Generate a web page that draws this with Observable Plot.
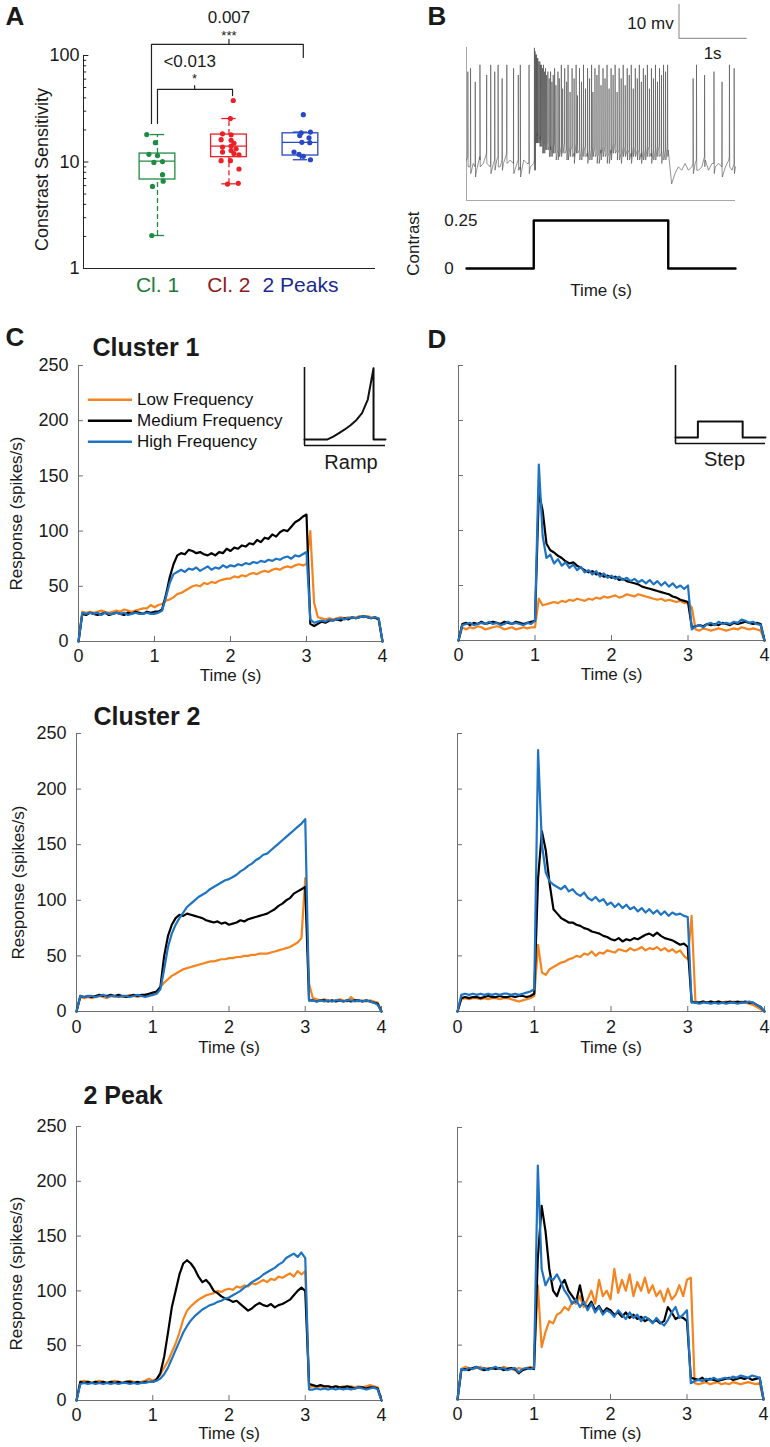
<!DOCTYPE html>
<html><head><meta charset="utf-8">
<script src="https://cdn.jsdelivr.net/npm/d3@7"></script>
<script src="https://cdn.jsdelivr.net/npm/@observablehq/plot@0.6"></script>
<style>
body{margin:0;background:#fff;}
#fig{position:relative;width:770px;height:1447px;overflow:hidden;background:#fff;}
#fig svg{position:absolute;overflow:visible;}
</style></head><body><div id="fig"></div>
<script>
// ---------------- DATA ----------------
const TIME_STEP = 0.05; // response samples every 50 ms from 0 to 4 s
const timeTicks = [0, 1, 2, 3, 4];
const responseTicks = [0, 50, 100, 150, 200, 250];
const freqNames = ["Low Frequency", "Medium Frequency", "High Frequency"];

// Panel A
const catLabels = ["Cl. 1", "Cl. 2", "2 Peaks"];
const boxQ1 = [6.85, 11.1, 11.5];
const boxMedian = [10.2, 14.1, 15.3];
const boxQ3 = [12.0, 18.1, 18.6];
const whiskerLow = [2.04, 6.24, 10.5];
const whiskerHigh = [18.1, 25.6, 19.1];
const cl1Values = [18.1, 15.2, 11.8, 11.5, 9.9, 10.1, 7.6, 6.6, 5.9, 2.04];
const cl1Jitter = [-0.15, -0.03, -0.12, 0, -0.05, 0.07, 0.07, 0.08, -0.07, -0.08];
const cl2Values = [37.8, 25.6, 18.4, 18.0, 16.2, 16.0, 15.0, 13.8, 14.1, 13.3, 12.8, 12.4, 12.0, 11.7, 10.3, 10.3, 8.6, 6.3, 6.2];
const cl2Jitter = [0.06, 0.02, -0.09, 0.03, -0.11, 0.03, 0.07, -0.09, 0.03, 0.1, 0.03, -0.09, 0.07, 0.14, -0.11, 0.02, 0.14, 0.13, -0.02];
const peaksValues = [27.8, 18.8, 19.1, 17.7, 16.9, 15.3, 15.2, 12.4, 11.8, 11.3, 10.5];
const peaksJitter = [0.04, 0.01, 0.14, -0.01, 0.12, 0.02, 0.13, -0.09, -0.02, 0.04, 0.14];
const compPValues = ["0.007", "<0.013"];
const compStars = ["***", "*"];

// Panel B
const traceBaseline = [
 -59,-61,-60,-62,-59,-60,-58,-61,-60,-59,
 -61,-60,-58,-59,-61,-60,-62,-59,-60,-61,
 -60,-52,-53,-55,-54,-56,-55,-57,-56,-55,
 -57,-56,-58,-55,-57,-56,-58,-57,-56,-58,
 -57,-56,-58,-57,-55,-57,-58,-56,-57,-58,
 -56,-57,-58,-57,-56,-58,-57,-56,-58,-57,
 -56,-66,-63,-61,-62,-60,-62,-61,-60,-62,
 -61,-59,-62,-60,-61,-60,-62,-61,-59,-62,
 -61];
const spikeTimes = [
 0.02,0.06,0.13,0.20,0.30,0.36,0.42,0.47,0.53,0.60,0.70,0.77,0.80,0.93,
 1.01,1.02,1.03,1.04,1.05,1.06,1.075,1.09,1.10,1.115,1.13,1.145,1.16,1.175,1.19,1.21,1.23,1.25,1.27,1.29,
 1.31,1.33,1.36,1.38,1.41,1.43,1.46,1.49,1.51,1.54,1.57,1.60,1.63,1.65,1.68,1.71,1.74,1.77,1.80,1.83,
 1.86,1.88,1.91,1.94,1.97,2.00,2.03,2.06,2.09,2.12,2.15,2.18,2.21,2.24,2.27,2.30,2.33,2.36,2.39,2.42,
 2.45,2.48,2.51,2.54,2.57,2.60,2.63,2.66,2.69,2.72,2.75,2.78,2.81,2.84,2.87,2.90,2.93,2.96,2.99,
 3.37,3.42,3.54,3.68,3.80,3.91,3.98];
const spikePeaks = [
 -33,-32,-36,-31,-34,-31,-33,-31,-35,-31,-32,-34,-31,-31,
 -26,-27,-28,-28,-29,-29,-30,-30,-31,-31,-32,-31,-33,-32,-34,-33,-35,-33,-36,-34,
 -32,-37,-33,-35,-31,-38,-32,-36,-31,-39,-32,-35,-31,-40,-32,-36,-31,-38,-32,-35,
 -31,-39,-32,-34,-31,-37,-32,-35,-31,-38,-32,-34,-31,-39,-32,-35,-31,-37,-32,-34,
 -31,-38,-32,-35,-31,-36,-32,-34,-31,-38,-32,-35,-31,-36,-32,-34,-31,-33,-31,
 -35,-31,-34,-33,-36,-31,-32];
const traceDomain = [-70.9, -25.9];
const scaleBarMV = 10, scaleBarS = 1;
const contrastTimes = [0, 1, 1, 3, 3, 4];
const contrastLevels = [0, 0, 0.25, 0.25, 0, 0];

// Insets
const rampTimes = [0, 1, 1.25, 1.5, 1.75, 2.0, 2.25, 2.5, 2.75, 3.0, 3.0, 3.52];
const rampLevels = [0, 0, 0.04, 0.09, 0.14, 0.2, 0.27, 0.37, 0.56, 1.0, 0, 0];
const stepTimes = [0, 1, 1, 3, 3, 4.02];
const stepLevels = [0, 0, 1, 1, 0, 0];

// Responses (spikes/s), one value every 50 ms, 0..4 s
const c1Low = [0,27,26,27,26,27,28,27,26,27, 28,27,29,28,27,28,29,30,30,33, 31,33,34,37,38,40,43,44,46,48, 50,51,50,53,52,54,53,55,56,57, 57,59,58,60,59,61,62,61,63,64, 63,65,66,65,67,68,67,69,70,69, 70,100,35,22,21,20,21,20,21,22, 21,22,21,22,23,22,23,22,21,20, 0];
const c1Med = [0,25,24,26,25,24,25,26,24,25, 26,25,24,26,25,27,26,25,27,26, 27,27,29,42,58,70,78,80,79,83, 82,80,81,79,78,80,78,81,80,84, 82,85,84,87,86,89,88,92,90,94, 93,97,95,99,101,100,104,108,110,113, 115,16,14,16,18,17,19,19,20,19, 21,20,22,21,22,23,22,21,22,20, 0];
const c1High = [0,26,25,26,25,26,24,26,25,25, 26,25,26,24,25,26,25,25,26,25, 25,26,28,40,53,61,63,65,63,66, 65,67,64,66,68,65,67,66,69,67, 69,68,70,69,71,70,72,71,73,72, 74,73,75,74,76,77,75,78,77,79, 81,20,17,18,19,18,20,19,20,21, 20,21,22,21,22,23,22,21,22,21, 0];
const d1Low = [0,12,10,12,11,13,12,10,11,12, 13,12,10,11,12,10,11,12,11,12, 12,38,32,33,34,35,34,36,35,37, 36,38,37,36,38,37,39,38,40,39, 40,41,39,40,42,41,40,42,41,40, 39,38,37,38,36,37,36,35,36,34, 34,30,10,9,11,10,9,10,11,10, 9,10,11,10,12,11,10,11,10,9, 0];
const d1Med = [0,15,16,14,16,15,17,15,16,17, 16,15,17,16,15,17,16,15,16,17, 18,135,118,88,82,80,77,75,72,70, 71,68,66,64,62,63,60,61,58,59, 57,58,55,56,54,53,52,51,49,48, 47,46,45,44,43,42,40,39,37,36, 35,12,13,14,13,15,14,15,14,16, 15,14,16,15,16,17,16,15,16,15, 0];
const d1High = [0,14,15,16,14,15,16,15,17,15, 16,14,15,17,15,16,15,14,16,15, 18,160,95,75,78,70,74,68,71,66, 69,64,67,62,64,60,63,58,61,57, 59,56,58,55,57,54,56,53,55,52, 55,51,54,50,53,49,52,48,50,47, 50,10,13,14,12,15,16,14,17,15, 16,15,17,16,19,18,16,17,15,14, 0];
const c2Low = [0,13,12,13,12,13,14,13,12,14, 13,14,13,14,15,14,13,14,15,15, 15,17,22,26,29,32,34,36,38,39, 40,41,42,43,44,45,45,46,47,47, 48,48,49,49,50,50,51,51,52,52, 52,53,54,55,56,57,58,60,62,66, 120,25,12,11,10,11,10,9,10,11, 10,9,13,10,9,10,9,10,9,8, 0];
const c2Med = [0,14,13,14,13,14,15,14,14,15, 14,15,14,13,14,15,14,15,15,16, 17,18,22,50,68,78,84,87,86,88, 87,86,85,84,82,81,80,81,79,80, 78,79,80,82,81,83,84,85,86,87, 88,90,92,95,97,100,102,106,108,110, 112,10,10,9,10,10,9,10,9,10, 9,10,9,10,10,9,10,9,8,7, 0];
const c2High = [0,14,13,14,14,13,14,15,13,14, 14,13,14,14,13,14,15,14,13,14, 15,16,20,38,58,70,78,84,89,94, 97,100,103,105,107,110,112,114,116,118, 119,121,123,126,128,131,133,136,138,141, 142,145,148,151,154,157,160,163,166,169, 173,10,10,9,10,9,10,9,10,10, 9,10,10,9,10,9,10,9,8,6, 0];
const d2Low = [0,11,12,11,12,12,11,12,11,12, 12,11,12,12,11,10,9,10,11,12, 14,60,35,33,38,40,42,44,45,47, 48,50,49,52,51,54,50,53,52,55, 54,53,56,55,54,57,55,56,58,55, 57,56,58,55,57,54,56,53,55,50, 47,86,9,8,9,8,9,8,9,8, 9,8,9,8,9,8,7,6,4,2, 0];
const d2Med = [0,12,13,12,13,13,12,13,14,13, 13,14,13,13,14,13,14,14,13,14, 16,120,162,145,115,92,88,84,82,80, 80,78,77,75,74,72,71,70,68,67, 65,64,66,63,65,64,66,65,67,69, 70,68,71,68,66,65,64,62,60,61, 58,9,8,8,9,8,9,8,9,8, 8,9,8,9,8,9,8,8,6,4, 0];
const d2High = [0,15,16,15,16,15,16,15,16,15, 16,15,16,16,15,16,15,16,17,18, 20,235,150,125,117,114,112,110,113,108, 110,106,104,107,102,100,103,99,101,96, 98,94,97,93,96,92,94,90,93,89, 92,88,91,87,90,86,89,87,88,86, 85,8,8,7,8,8,7,8,7,8, 7,8,8,7,8,8,9,8,6,4, 0];
const c3Low = [0,17,18,17,16,17,18,17,16,17, 18,17,16,17,18,17,16,17,18,20, 18,20,24,30,36,44,52,62,74,82, 86,89,92,94,96,97,98,100,99,101, 102,101,104,103,105,104,107,106,108,110, 108,111,110,113,112,114,116,113,118,115, 118,12,13,12,13,12,13,12,13,12, 13,12,13,12,13,12,13,14,13,12, 0];
const c3Med = [0,17,16,17,16,17,16,17,16,17, 16,17,16,17,17,16,17,16,17,17, 17,19,25,40,62,85,100,115,125,128, 125,120,113,108,110,106,100,98,95,93, 92,90,91,88,85,82,84,87,89,87, 86,88,85,87,88,90,92,96,100,103, 100,15,14,13,14,13,13,12,13,12, 12,13,12,11,12,12,11,12,12,11, 0];
const c3High = [0,15,16,15,16,15,16,15,16,15, 16,15,16,16,15,16,15,16,16,17, 17,18,20,24,30,38,46,54,62,68, 73,77,80,83,85,87,88,90,91,93, 94,96,98,100,103,105,108,110,112,115, 117,119,121,124,126,130,132,134,131,135, 130,10,10,11,10,11,10,11,10,11, 10,11,10,11,12,11,10,11,12,10, 0];
const d3Low = [0,28,30,29,28,29,30,28,29,28, 29,28,30,29,28,27,29,28,29,30, 29,105,48,62,72,70,78,80,85,82, 90,88,95,85,92,100,88,110,95,100, 92,120,98,110,100,115,95,108,100,112, 98,105,95,100,90,102,92,96,105,95, 110,112,15,14,15,16,14,15,16,14, 15,14,16,15,14,15,16,15,14,15, 0];
const d3Med = [0,27,28,27,29,30,28,27,28,29, 28,29,27,28,29,28,24,27,28,29, 28,130,178,155,120,100,95,105,110,100, 95,90,105,88,85,90,82,86,80,84, 82,78,80,76,80,75,78,74,76,72, 74,71,73,70,72,85,80,74,76,75, 72,20,19,18,20,17,19,18,17,18, 19,20,18,19,20,19,20,18,19,20, 0];
const d3High = [0,28,27,29,28,30,28,29,27,29, 30,28,29,27,28,29,25,28,29,28, 29,215,120,105,112,110,115,108,100,95, 88,92,85,90,82,88,80,85,78,82, 80,76,82,78,74,80,75,78,72,76, 74,70,75,71,68,73,80,85,75,78, 82,15,17,18,17,19,18,20,18,19, 20,19,21,20,22,21,20,22,21,20, 0];

// ---------------- STYLE / LAYOUT ----------------
const FONT = "'Liberation Sans', Arial, Helvetica, sans-serif";
const baseStyle = {fontFamily: FONT, fontSize: "18px", color: "#1a1a1a", background: "transparent", overflow: "visible"};
const AXIS = "#6e6e6e";
const freqColors = ["#f5841f", "#000000", "#1e74c2"];
const catColors = ["#1f8b43", "#ec2027", "#2747c4"];
const catTextColors = ["#1d7a3c", "#8e1b1b", "#1b2a8f"];
const fig = document.getElementById("fig");
function place(svg, left, top) {
  svg.style.position = "absolute";
  svg.style.left = left + "px";
  svg.style.top = top + "px";
  fig.appendChild(svg);
}

// ---------------- PANEL A ----------------
(function () {
  const groups = [cl1Values, cl2Values, peaksValues];
  const jitters = [cl1Jitter, cl2Jitter, peaksJitter];
  const marks = [
    Plot.ruleX([-0.035], {stroke: "#222"}),
    Plot.ruleY([1], {stroke: "#222"}),
    Plot.ruleY([1, 10, 100], {x1: -0.035, x2: 0.04, stroke: "#222"}),
    Plot.ruleY([2,3,4,5,6,7,8,9,20,30,40,50,60,70,80,90], {x1: -0.035, x2: 0.01, stroke: "#222"}),
    Plot.axisY({ticks: [1, 10, 100], tickFormat: d => String(d), tickSize: 0, tickPadding: 4, fontSize: 18, label: null}),
    Plot.text(["Constrast Sensitivity"], {frameAnchor: "left", dx: -41, dy: 7.5, rotate: -90, textAnchor: "middle", lineAnchor: "middle", fontSize: 18}),
    Plot.text(["A"], {frameAnchor: "top-left", dx: -78, dy: -39, textAnchor: "start", lineAnchor: "middle", fontWeight: "bold", fontSize: 26})
  ];
  catLabels.forEach((lab, g) => {
    const c = catColors[g];
    const box = [{i: g + 1, q1: boxQ1[g], med: boxMedian[g], q3: boxQ3[g], lo: whiskerLow[g], hi: whiskerHigh[g]}];
    marks.push(
      Plot.ruleX(box, {x: "i", y1: "q3", y2: "hi", stroke: c, strokeWidth: 1.3, strokeDasharray: "5,3"}),
      Plot.ruleX(box, {x: "i", y1: "lo", y2: "q1", stroke: c, strokeWidth: 1.3, strokeDasharray: "5,3"}),
      Plot.ruleY(box, {y: "hi", x1: d => d.i - 0.1, x2: d => d.i + 0.1, stroke: c, strokeWidth: 1.3}),
      Plot.ruleY(box, {y: "lo", x1: d => d.i - 0.1, x2: d => d.i + 0.1, stroke: c, strokeWidth: 1.3}),
      Plot.rect(box, {x1: d => d.i - 0.25, x2: d => d.i + 0.25, y1: "q1", y2: "q3", fill: "none", stroke: c, strokeWidth: 1.3}),
      Plot.ruleY(box, {y: "med", x1: d => d.i - 0.25, x2: d => d.i + 0.25, stroke: c, strokeWidth: 1.1}),
      Plot.dot(groups[g].map((v, k) => ({x: g + 1 + jitters[g][k], v})), {x: "x", y: "v", r: 2.6, fill: c, stroke: "none"}),
      Plot.text([lab], {x: g + 1, frameAnchor: "bottom", dy: 17, lineAnchor: "middle", fill: catTextColors[g], fontSize: 21})
    );
  });
  const brackets = [
    {x1: 0.916, x2: 3.04, y: 127, yl: 23, yr: 96, xc: 2.0, top: 141, ptxt: 225, stxt: 152, ptx: 2.0},
    {x1: 1.0, x2: 2.05, y: 48, yl: 23, yr: 42, xc: 1.52, top: 52, ptxt: 87, stxt: 60, ptx: 1.45}
  ];
  brackets.forEach((b, k) => {
    marks.push(
      Plot.line([{x: b.x1, y: b.yl}, {x: b.x1, y: b.y}, {x: b.x2, y: b.y}, {x: b.x2, y: b.yr}], {x: "x", y: "y", stroke: "#222", strokeWidth: 1.2}),
      Plot.ruleX([b.xc], {y1: b.y, y2: b.top, stroke: "#222", strokeWidth: 1.2}),
      Plot.text([compPValues[k]], {x: b.ptx, y: b.ptxt, fontSize: 17, fill: "#1a1a1a"}),
      Plot.text([compStars[k]], {x: b.xc, y: b.stxt, fontSize: 13, fill: "#1a1a1a"})
    );
  });
  const svg = Plot.plot({
    width: 385, height: 300, marginLeft: 83, marginRight: 10, marginTop: 55, marginBottom: 32,
    x: {domain: [-0.035, 4.05], axis: null},
    y: {type: "log", domain: [1, 100]},
    style: baseStyle, marks
  });
  place(svg, 0, 0);
})();

// ---------------- PANEL B ----------------
(function () {
  const pts = traceBaseline.map((v, i) => ({t: i * TIME_STEP, v}));
  spikeTimes.forEach((t, k) => {
    const base = traceBaseline[Math.round(t / TIME_STEP)];
    pts.push({t: t - 0.002, v: base + 1}, {t, v: spikePeaks[k]}, {t: t + 0.004, v: base - 2});
  });
  pts.sort((a, b) => a.t - b.t);
  const sbT = 3.16, sbV = -23.2;
  const bar = [{t: sbT, v: sbV + scaleBarMV}, {t: sbT, v: sbV}, {t: sbT + scaleBarS, v: sbV}];
  const trace = Plot.plot({
    width: 385, height: 205, marginLeft: 81, marginRight: 35, marginTop: 47, marginBottom: 5,
    x: {domain: [0, 4], axis: null}, y: {domain: traceDomain, axis: null}, style: baseStyle,
    marks: [
      Plot.ruleX([0], {stroke: "#a8a8a8"}),
      Plot.ruleY([traceDomain[0]], {stroke: "#a8a8a8"}),
      Plot.line(pts, {x: "t", y: "v", stroke: "#4a4a4a", strokeWidth: 0.6}),
      Plot.line(bar, {x: "t", y: "v", stroke: "#9a9a9a", strokeWidth: 1.2}),
      Plot.text([scaleBarMV + " mv"], {x: sbT - 0.08, y: sbV + scaleBarMV * 0.44, textAnchor: "end", fontSize: 17}),
      Plot.text([scaleBarS + "s"], {x: sbT + scaleBarS * 0.5, y: sbV - 4.5, fontSize: 17}),
      Plot.text(["B"], {frameAnchor: "top-left", dx: -39, dy: -31, textAnchor: "start", lineAnchor: "middle", fontWeight: "bold", fontSize: 26})
    ]
  });
  place(trace, 385, 0);
  const stim = Plot.plot({
    width: 385, height: 95, marginLeft: 81, marginRight: 35, marginTop: 15, marginBottom: 32,
    x: {domain: [0, 4], axis: null}, y: {domain: [0, 0.25], axis: null}, style: baseStyle,
    marks: [
      Plot.line(contrastTimes.map((t, i) => ({t, c: contrastLevels[i]})), {x: "t", y: "c", stroke: "#000", strokeWidth: 2.4}),
      Plot.text(["0.25"], {x: -0.33, y: 0.25, textAnchor: "start", fontSize: 17}),
      Plot.text(["0"], {x: -0.33, y: 0, textAnchor: "start", fontSize: 17}),
      Plot.text(["Contrast"], {x: -0.79, y: 0.13, rotate: -90, fontSize: 17}),
      Plot.text(["Time (s)"], {frameAnchor: "bottom", dy: 22, lineAnchor: "middle", fontSize: 17})
    ]
  });
  place(stim, 385, 205);
})();

// ---------------- PANELS C / D ----------------
const panels = [
  {left: 0, top: 300, h: 380, ml: 78, mr: 3, mt: 65, mb: 39, yLab: true, data: [c1Low, c1Med, c1High], title: "Cluster 1", tdx: 14, tdy: -18, letter: "C", ldx: -73, ldy: -28, tickPad: 8, timeDy: 34, ylDx: -62, legend: true},
  {left: 385, top: 300, h: 380, ml: 73, mr: 6, mt: 65, mb: 40, yLab: false, data: [d1Low, d1Med, d1High], letter: "D", ldx: -31, ldy: -26, tickPad: 8, timeDy: 34},
  {left: 0, top: 680, h: 380, ml: 76, mr: 4, mt: 53, mb: 49, yLab: true, data: [c2Low, c2Med, c2High], title: "Cluster 2", tdx: 17, tdy: -17, tickPad: 9, timeDy: 36, ylDx: -58},
  {left: 385, top: 680, h: 380, ml: 72, mr: 6, mt: 53, mb: 49, yLab: false, data: [d2Low, d2Med, d2High], tickPad: 9, timeDy: 36},
  {left: 0, top: 1060, h: 387, ml: 76, mr: 4, mt: 66, mb: 47, yLab: true, data: [c3Low, c3Med, c3High], title: "2 Peak", tdx: 7, tdy: -31, tickPad: 8, timeDy: 33, ylDx: -60},
  {left: 385, top: 1060, h: 387, ml: 72, mr: 7, mt: 67, mb: 48, yLab: false, data: [d3Low, d3Med, d3High], tickPad: 8, timeDy: 34}
];
panels.forEach(p => {
  const marks = [
    Plot.ruleY([0], {stroke: AXIS}),
    Plot.ruleX([0], {stroke: AXIS}),
    Plot.ruleX(timeTicks.slice(1), {y1: 0, y2: 4.5, stroke: AXIS}),
    Plot.ruleY(responseTicks.slice(1), {x1: 0, x2: 0.065, stroke: AXIS}),
    Plot.axisX({ticks: timeTicks, tickFormat: d => String(d), tickSize: 0, tickPadding: p.tickPad, fontSize: 18, label: null}),
    Plot.text(["Time (s)"], {frameAnchor: "bottom", dy: p.timeDy, lineAnchor: "middle", fontSize: 17})
  ];
  if (p.yLab) {
    marks.push(
      Plot.axisY({ticks: responseTicks, tickSize: 0, tickPadding: 10, fontSize: 18, label: null}),
      Plot.text(["Response (spikes/s)"], {frameAnchor: "left", dx: p.ylDx, dy: 10, rotate: -90, textAnchor: "middle", lineAnchor: "middle", fontSize: 17})
    );
  }
  p.data.forEach((vals, k) => {
    marks.push(Plot.line(vals.map((v, i) => ({t: i * TIME_STEP, v})), {x: "t", y: "v", stroke: freqColors[k], strokeWidth: 2.2}));
  });
  if (p.title) marks.push(Plot.text([p.title], {frameAnchor: "top-left", dx: p.tdx, dy: p.tdy, textAnchor: "start", lineAnchor: "middle", fontWeight: "bold", fontSize: 25}));
  if (p.letter) marks.push(Plot.text([p.letter], {frameAnchor: "top-left", dx: p.ldx, dy: p.ldy, textAnchor: "start", lineAnchor: "middle", fontWeight: "bold", fontSize: 26}));
  if (p.legend) {
    freqNames.forEach((name, k) => {
      const y = 219 - 19 * k;
      marks.push(
        Plot.ruleY([y], {x1: 0.13, x2: 0.71, stroke: freqColors[k], strokeWidth: 2.6}),
        Plot.text([name], {x: 0.77, y, textAnchor: "start", lineAnchor: "middle", fontSize: 17, fill: "#111"})
      );
    });
  }
  const svg = Plot.plot({
    width: 385, height: p.h, marginLeft: p.ml, marginRight: p.mr, marginTop: p.mt, marginBottom: p.mb,
    x: {domain: [0, 4]},
    y: p.yLab ? {domain: [0, 250]} : {domain: [0, 250], axis: null},
    style: baseStyle, marks
  });
  place(svg, p.left, p.top);
});

// ---------------- INSETS ----------------
(function () {
  const ramp = Plot.plot({
    width: 95, height: 115, marginLeft: 9, marginRight: 5, marginTop: 7, marginBottom: 30,
    x: {domain: [0, 3.52], axis: null}, y: {domain: [-0.085, 1.01], axis: null}, style: baseStyle,
    marks: [
      Plot.ruleX([0], {stroke: "#111", strokeWidth: 1.6}),
      Plot.ruleY([-0.085], {stroke: "#111", strokeWidth: 1.6}),
      Plot.line(rampTimes.map((t, i) => ({t, c: rampLevels[i]})), {x: "t", y: "c", stroke: "#111", strokeWidth: 2}),
      Plot.text(["Ramp"], {frameAnchor: "bottom", dx: 6, dy: 17, lineAnchor: "middle", fontSize: 20})
    ]
  });
  place(ramp, 295, 360);
  const step = Plot.plot({
    width: 105, height: 115, marginLeft: 10, marginRight: 5, marginTop: 7, marginBottom: 30,
    x: {domain: [0, 4.02], axis: null}, y: {domain: [-0.375, 4.5], axis: null}, style: baseStyle,
    marks: [
      Plot.ruleX([0], {stroke: "#111", strokeWidth: 1.6}),
      Plot.ruleY([-0.375], {stroke: "#111", strokeWidth: 1.6}),
      Plot.line(stepTimes.map((t, i) => ({t, c: stepLevels[i]})), {x: "t", y: "c", stroke: "#111", strokeWidth: 2}),
      Plot.text(["Step"], {frameAnchor: "bottom", dx: 4, dy: 16, lineAnchor: "middle", fontSize: 20})
    ]
  });
  place(step, 665, 358);
})();
</script></body></html>
